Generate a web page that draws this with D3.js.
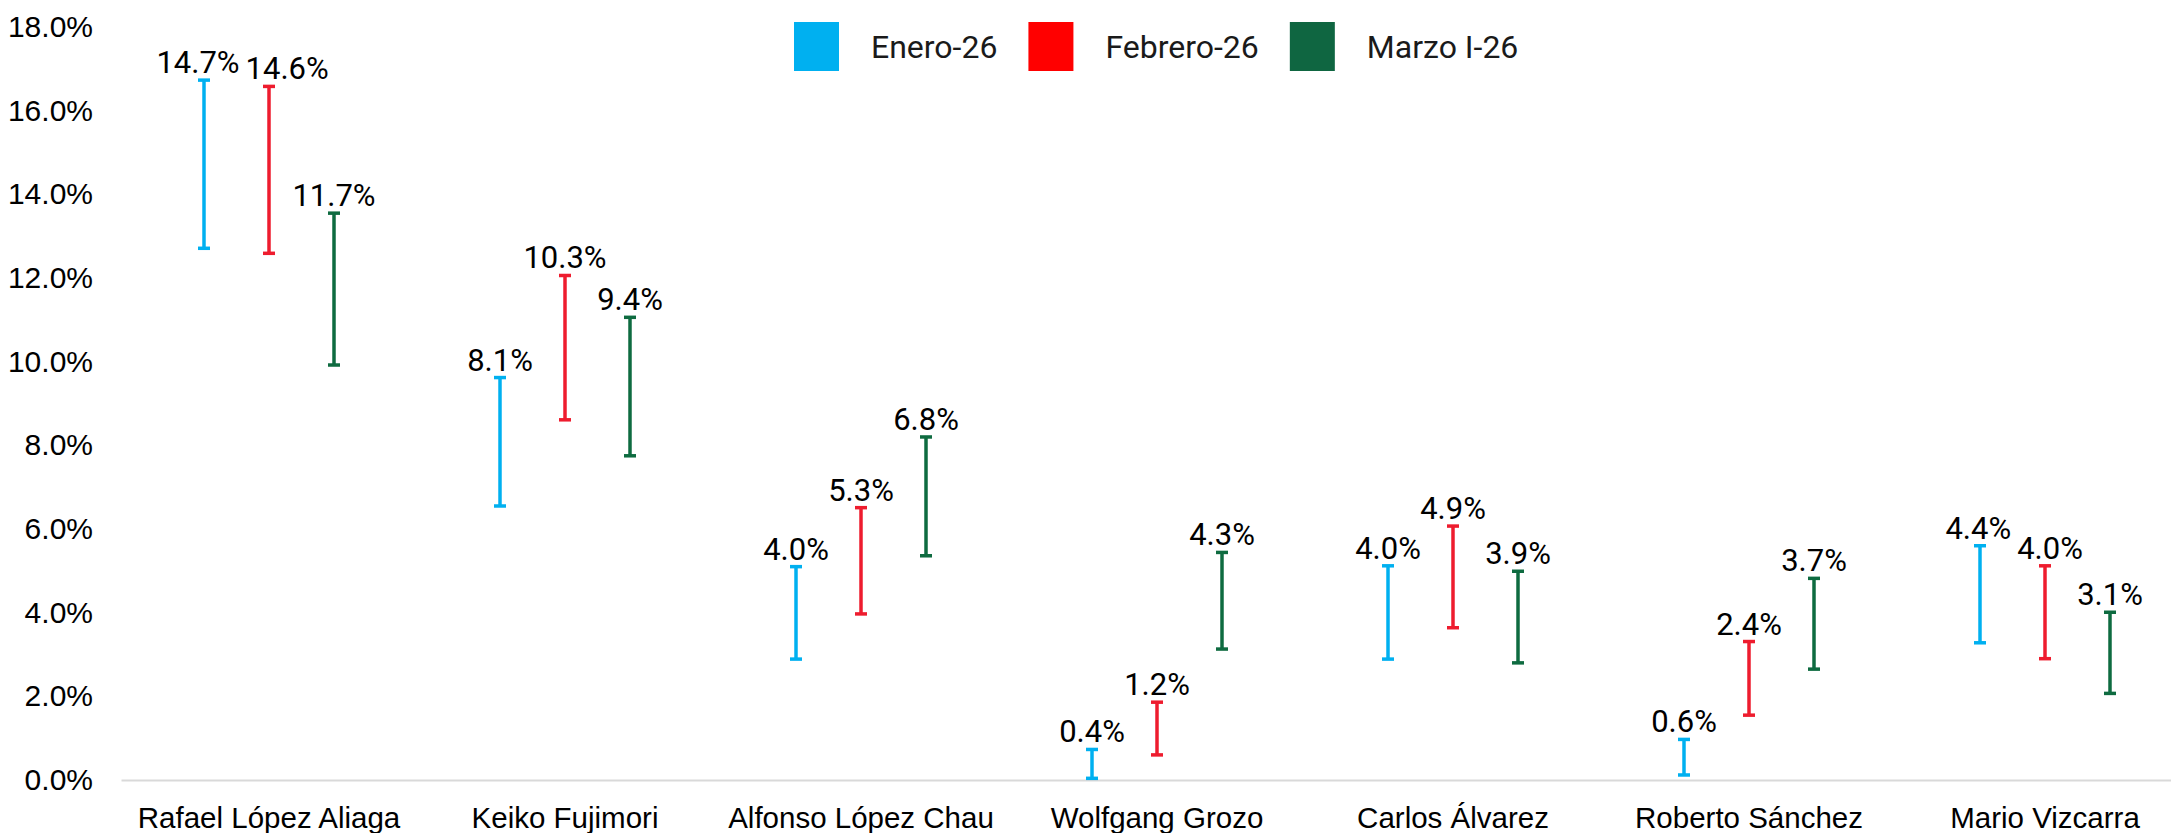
<!DOCTYPE html>
<html lang="es">
<head>
<meta charset="UTF-8">
<title>Intención de voto - intervalos</title>
<script src="https://d3js.org/d3.v7.min.js"></script>
<style>
  body { margin: 0; background: #fff; }
  svg { display: block; font-family: Roboto, "Noto Sans", sans-serif; }
  .tick text { fill: #000; }
</style>
</head>
<body>
<div id="chart"></div>
<script>
// categories and series
var candidatos = ["Rafael López Aliaga", "Keiko Fujimori", "Alfonso López Chau", "Wolfgang Grozo",
                  "Carlos Álvarez", "Roberto Sánchez", "Mario Vizcarra"];
var series = ["Enero-26", "Febrero-26", "Marzo I-26"];

// point estimates (labels)
var estEnero   = [14.7, 8.1, 4.0, 0.4, 4.0, 0.6, 4.4];
var estFebrero = [14.6, 10.3, 5.3, 1.2, 4.9, 2.4, 4.0];
var estMarzo   = [11.7, 9.4, 6.8, 4.3, 3.9, 3.7, 3.1];

// interval ends
var lowEnero    = [12.71, 6.55, 2.89, 0.04, 2.89, 0.12, 3.28];
var highEnero   = [16.73, 9.62, 5.10, 0.73, 5.12, 0.97, 5.60];
var lowFebrero  = [12.59, 8.61, 3.97, 0.60, 3.64, 1.55, 2.90];
var highFebrero = [16.58, 12.06, 6.51, 1.86, 6.07, 3.31, 5.12];
var lowMarzo    = [9.92, 7.75, 5.36, 3.13, 2.80, 2.65, 2.07];
var highMarzo   = [13.55, 11.06, 8.20, 5.44, 4.99, 4.82, 4.01];

var yTicks = [0, 2, 4, 6, 8, 10, 12, 14, 16, 18];

var barColors = { "Enero-26": "#00B0F0", "Febrero-26": "#EE1C2E", "Marzo I-26": "#0E6B40" };
var legendColors = { "Enero-26": "#00B0F0", "Febrero-26": "#FF0000", "Marzo I-26": "#0F6641" };

var W = 2171, H = 833;

var svg = d3.select("#chart").append("svg")
    .attr("width", W)
    .attr("height", H);

var y = d3.scaleLinear().domain([0, 18]).range([780, 27]);
var x0 = d3.scaleBand().domain(candidatos).range([121, 2193]); // last band runs past the edge
var x1 = d3.scalePoint().domain(series).range([-65, 65]);

// y axis (labels only)
var yAxis = svg.append("g")
    .attr("transform", "translate(93,0)")
    .call(d3.axisLeft(y).tickValues(yTicks).tickSize(0).tickPadding(0)
        .tickFormat(function (d) { return d.toFixed(1) + "%"; }));
yAxis.select(".domain").remove();
yAxis.selectAll("text").style("font-size", "30px");

// x axis with light baseline
var xAxis = svg.append("g")
    .attr("transform", "translate(0,780)")
    .call(d3.axisBottom(x0).tickSize(0).tickPadding(27));
xAxis.select(".domain").attr("stroke", "#D9D9D9").attr("stroke-width", 2);
xAxis.selectAll("text").style("font-size", "29.5px");

// build rows
var rows = [];
candidatos.forEach(function (c, i) {
    rows.push({ cat: c, s: "Enero-26", est: estEnero[i], lo: lowEnero[i], hi: highEnero[i] });
    rows.push({ cat: c, s: "Febrero-26", est: estFebrero[i], lo: lowFebrero[i], hi: highFebrero[i] });
    rows.push({ cat: c, s: "Marzo I-26", est: estMarzo[i], lo: lowMarzo[i], hi: highMarzo[i] });
});

function cx(d) { return x0(d.cat) + x0.bandwidth() / 2 + x1(d.s); }

var bars = svg.append("g").selectAll("g")
    .data(rows)
    .enter()
    .append("g")
    .attr("stroke", function (d) { return barColors[d.s]; })
    .attr("stroke-width", 3.5);

// vertical line
bars.append("line")
    .attr("x1", cx).attr("x2", cx)
    .attr("y1", function (d) { return y(d.hi); })
    .attr("y2", function (d) { return y(d.lo); });

// caps
bars.append("line")
    .attr("x1", function (d) { return cx(d) - 6; })
    .attr("x2", function (d) { return cx(d) + 6; })
    .attr("y1", function (d) { return y(d.hi); })
    .attr("y2", function (d) { return y(d.hi); });
bars.append("line")
    .attr("x1", function (d) { return cx(d) - 6; })
    .attr("x2", function (d) { return cx(d) + 6; })
    .attr("y1", function (d) { return y(d.lo); })
    .attr("y2", function (d) { return y(d.lo); });

// value labels
var labels = svg.append("g").selectAll("text")
    .data(rows)
    .enter()
    .append("text")
    .attr("x", cx)
    .attr("y", function (d) { return y(d.hi) - 7; })
    .attr("text-anchor", "middle")
    .style("font-size", "31px")
    .attr("fill", "#000")
    .text(function (d) { return d.est.toFixed(1) + "%"; });

// push apart labels that collide with their neighbour in the same group
var nodes = labels.nodes();
for (var k = 1; k < nodes.length; k++) {
    var a = nodes[k - 1], b = nodes[k];
    if (a.__data__.cat !== b.__data__.cat) continue;
    var ba = a.getBBox(), bb = b.getBBox();
    var vOverlap = ba.y < bb.y + bb.height && bb.y < ba.y + ba.height;
    var overlap = ba.x + ba.width + 6 - bb.x;
    if (vOverlap && overlap > 0) {
        a.setAttribute("x", +a.getAttribute("x") - overlap * 0.25);
        b.setAttribute("x", +b.getAttribute("x") + overlap * 0.75);
    }
}

// legend
var legend = svg.append("g").attr("transform", "translate(794,22)");
var lx = 0;
series.forEach(function (s) {
    legend.append("rect")
        .attr("x", lx).attr("y", 0)
        .attr("width", 45).attr("height", 49)
        .attr("fill", legendColors[s]);
    var t = legend.append("text")
        .attr("x", lx + 77).attr("y", 25)
        .attr("dy", "0.35em")
        .style("font-size", "32px")
        .attr("fill", "#1a1a1a")
        .text(s);
    lx += 77 + t.node().getComputedTextLength() + 31;
});
</script>
</body>
</html>
